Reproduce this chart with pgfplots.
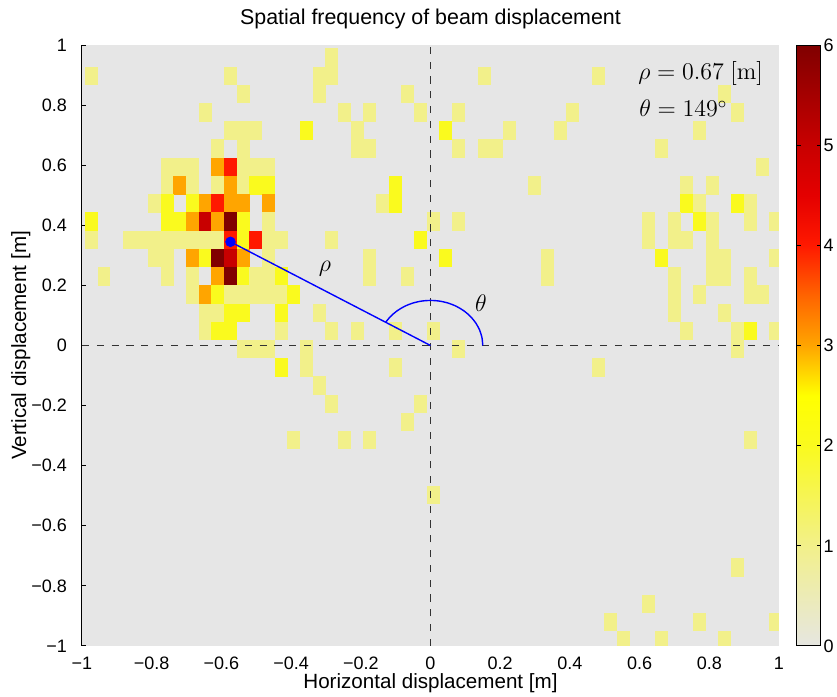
\documentclass[border=0pt]{standalone}
\usepackage[no-math]{fontspec}
\setmainfont{Liberation Sans}
\usepackage{pgfplots}
\usepackage{pgfplotstable}
\pgfplotsset{compat=1.18}

\pgfdeclareplotmark{cell}{%
  \pgfpathrectangle{\pgfqpoint{-3.22pt}{-4.6pt}}{\pgfqpoint{6.44pt}{9.2pt}}%
  \pgfusepathqfill}

\definecolor{bg}{RGB}{230,230,230}

\pgfplotstableread{
x y c
-0.283 0.958 1
-0.973 0.897 1
-0.573 0.897 1
-0.319 0.897 1
-0.283 0.897 1
0.154 0.897 1
0.481 0.897 1
-0.537 0.836 1
-0.319 0.836 1
-0.065 0.836 1
0.844 0.836 1
-0.646 0.776 1
-0.246 0.776 1
-0.174 0.776 1
-0.028 0.776 1
0.081 0.776 1
0.408 0.776 1
0.881 0.776 1
-0.573 0.715 1
-0.537 0.715 1
-0.501 0.715 1
-0.355 0.715 2
-0.210 0.715 1
0.044 0.715 2
0.226 0.715 1
0.372 0.715 1
0.772 0.715 1
-0.610 0.655 1
-0.537 0.655 1
-0.210 0.655 1
-0.174 0.655 1
0.081 0.655 1
0.154 0.655 1
0.190 0.655 1
0.662 0.655 1
-0.755 0.594 1
-0.719 0.594 1
-0.682 0.594 1
-0.610 0.594 3
-0.573 0.594 4
-0.537 0.594 1
-0.501 0.594 1
-0.464 0.594 1
0.953 0.594 1
-0.755 0.533 1
-0.719 0.533 3
-0.682 0.533 1
-0.610 0.533 1
-0.573 0.533 3
-0.537 0.533 1
-0.501 0.533 2
-0.464 0.533 2
-0.101 0.533 2
0.299 0.533 1
0.735 0.533 1
0.808 0.533 1
-0.792 0.473 1
-0.755 0.473 2
-0.682 0.473 2
-0.646 0.473 3
-0.610 0.473 4
-0.573 0.473 3
-0.537 0.473 3
-0.464 0.473 3
-0.137 0.473 1
-0.101 0.473 2
0.735 0.473 2
0.772 0.473 1
0.881 0.473 2
0.917 0.473 1
-0.973 0.412 2
-0.755 0.412 2
-0.719 0.412 2
-0.682 0.412 3
-0.646 0.412 5
-0.610 0.412 3
-0.573 0.412 6
-0.537 0.412 2
-0.464 0.412 1
0.008 0.412 1
0.081 0.412 1
0.626 0.412 1
0.699 0.412 1
0.772 0.412 2
0.808 0.412 1
0.917 0.412 1
0.990 0.412 1
-0.973 0.352 1
-0.864 0.352 1
-0.828 0.352 1
-0.792 0.352 1
-0.755 0.352 1
-0.719 0.352 1
-0.682 0.352 1
-0.646 0.352 1
-0.610 0.352 1
-0.573 0.352 4
-0.537 0.352 2
-0.501 0.352 4
-0.464 0.352 1
-0.428 0.352 1
-0.283 0.352 1
-0.028 0.352 2
0.626 0.352 1
0.699 0.352 1
0.735 0.352 1
0.808 0.352 1
-0.792 0.291 1
-0.755 0.291 1
-0.682 0.291 3
-0.646 0.291 2
-0.610 0.291 6
-0.573 0.291 5
-0.537 0.291 3
-0.464 0.291 1
-0.174 0.291 1
0.044 0.291 2
0.335 0.291 1
0.662 0.291 2
0.808 0.291 1
0.844 0.291 1
0.990 0.291 1
-0.937 0.230 1
-0.755 0.230 1
-0.682 0.230 1
-0.610 0.230 3
-0.573 0.230 6
-0.537 0.230 2
-0.501 0.230 1
-0.464 0.230 1
-0.428 0.230 2
-0.174 0.230 1
-0.065 0.230 1
0.335 0.230 1
0.699 0.230 1
0.808 0.230 1
0.844 0.230 1
0.917 0.230 1
-0.682 0.170 1
-0.646 0.170 3
-0.610 0.170 2
-0.573 0.170 1
-0.537 0.170 1
-0.501 0.170 1
-0.464 0.170 1
-0.428 0.170 1
-0.392 0.170 2
0.699 0.170 1
0.772 0.170 1
0.917 0.170 1
0.953 0.170 1
-0.646 0.109 1
-0.610 0.109 1
-0.573 0.109 2
-0.537 0.109 2
-0.428 0.109 2
-0.319 0.109 1
0.699 0.109 1
0.844 0.109 1
-0.646 0.049 1
-0.610 0.049 2
-0.573 0.049 2
-0.428 0.049 1
-0.283 0.049 1
-0.210 0.049 1
-0.101 0.049 1
0.008 0.049 1
0.735 0.049 1
0.881 0.049 1
0.917 0.049 2
0.990 0.049 1
-0.537 -0.012 1
-0.501 -0.012 1
-0.464 -0.012 1
-0.355 -0.012 1
0.081 -0.012 1
0.881 -0.012 1
-0.428 -0.073 2
-0.355 -0.073 1
-0.101 -0.073 1
0.481 -0.073 1
-0.319 -0.133 1
-0.283 -0.194 1
-0.028 -0.194 1
-0.065 -0.254 1
-0.392 -0.315 1
-0.246 -0.315 1
-0.174 -0.315 1
0.917 -0.315 1
0.008 -0.497 1
0.881 -0.739 1
0.626 -0.861 1
0.517 -0.921 1
0.772 -0.921 1
0.990 -0.921 1
0.553 -0.982 1
0.662 -0.982 1
0.844 -0.982 1
}\cells

\begin{document}
\begin{tikzpicture}
\useasboundingbox (-41pt,-25.5pt) rectangle (377.5pt,323pt);
\begin{axis}[
  scale only axis, width=348.5pt, height=300.5pt,
  xmin=-1, xmax=1, ymin=-1, ymax=1,
  axis background/.style={fill=bg},
  axis y line*=left, axis x line*=bottom,
  x axis line style={draw=none}, xtick style={draw=none},
  y axis line style={black, line width=0.5pt},
  ytick style={black, line width=0.5pt},
  tick align=inside, major tick length=2pt,
  xtick={-1,-0.8,-0.6,-0.4,-0.2,0,0.2,0.4,0.6,0.8,1},
  xticklabels={−1,−0.8,−0.6,−0.4,−0.2,0,0.2,0.4,0.6,0.8,1},
  ytick={-1,-0.8,-0.6,-0.4,-0.2,0,0.2,0.4,0.6,0.8,1},
  yticklabels={−1,−0.8,−0.6,−0.4,−0.2,0,0.2,0.4,0.6,0.8,1},
  tick label style={font=\fontsize{9}{10}\selectfont},
  xticklabel style={yshift=-2pt},
  yticklabel style={xshift=-4pt},
  title={Spatial frequency of beam displacement},
  every axis title/.style={at={(axis description cs:0.5,1.0349)}, anchor=base, font=\fontsize{10.7}{12}\selectfont},
  xlabel={Horizontal displacement [m]},
  every axis x label/.style={at={(axis description cs:0.5,-0.0715)}, anchor=base, font=\fontsize{10.3}{12}\selectfont},
  ylabel={Vertical displacement [m]},
  every axis y label/.style={at={(axis description cs:-0.0803,0.5)}, rotate=90, anchor=base, font=\fontsize{10.3}{12}\selectfont},
  colormap={heat}{rgb255=(230,230,225) rgb255=(236,235,182) rgb255=(242,240,138) rgb255=(246,245,84) rgb255=(250,250,30) rgb255=(255,255,0) rgb255=(255,165,0) rgb255=(255,100,0) rgb255=(255,25,0) rgb255=(228,0,0) rgb255=(200,0,0) rgb255=(165,0,0) rgb255=(128,0,0)},
  point meta min=0, point meta max=6,
  colorbar,
  colorbar style={
    at={(1.0258,1)}, anchor=north west,
    scale only axis, width=12pt, height=300.5pt,
    ytick={0,1,2,3,4,5,6}, yticklabels={0,1,2,3,4,5,6},
    ytick pos=both, yticklabel pos=right,
    tick align=inside, major tick length=2pt,
    ytick style={black, line width=0.5pt},
    yticklabel style={font=\fontsize{9}{10}\selectfont, xshift=-2.2pt},
    axis line style={black, line width=0.5pt},
  },
  clip marker paths=true,
]
\addplot[scatter, only marks, mark=cell, point meta=explicit] table[x=x, y=y, meta=c] {\cells};
\addplot[black!80, line width=0.7pt, dash pattern=on 3.6pt off 3.8pt] coordinates {(-1,0) (1,0)};
\addplot[black!80, line width=0.7pt, dash pattern=on 3.6pt off 3.8pt] coordinates {(0,-1) (0,1)};
\addplot[blue, line width=0.7pt, smooth] coordinates {
(0.150,0) (0.1477,0.0260) (0.1410,0.0513) (0.1299,0.0750) (0.1149,0.0964)
(0.0964,0.1149) (0.0750,0.1299) (0.0513,0.1410) (0.0260,0.1477) (0,0.150)
(-0.0260,0.1477) (-0.0513,0.1410) (-0.0750,0.1299) (-0.0964,0.1149)
(-0.1149,0.0964) (-0.1286,0.0773)};
\addplot[blue, line width=0.7pt] coordinates {(0,0) (-0.574,0.345)};
\addplot[only marks, mark=*, mark size=2.4pt, blue, mark options={fill=blue, draw=blue}] coordinates {(-0.574,0.345)};
\node[anchor=base west, inner sep=0pt, font=\fontsize{11.5}{13}\selectfont] at (axis cs:0.5954,0.886) {$\rho = 0.67\ [\mathrm{m}]$};
\node[anchor=base west, inner sep=0pt, font=\fontsize{11.5}{13}\selectfont] at (axis cs:0.5983,0.761) {$\theta = 149^\circ$};
\node[font=\fontsize{11.5}{13}\selectfont] at (axis cs:-0.303,0.255) {$\rho$};
\node[font=\fontsize{11.5}{13}\selectfont] at (axis cs:0.145,0.140) {$\theta$};
\end{axis}
\end{tikzpicture}
\end{document}
